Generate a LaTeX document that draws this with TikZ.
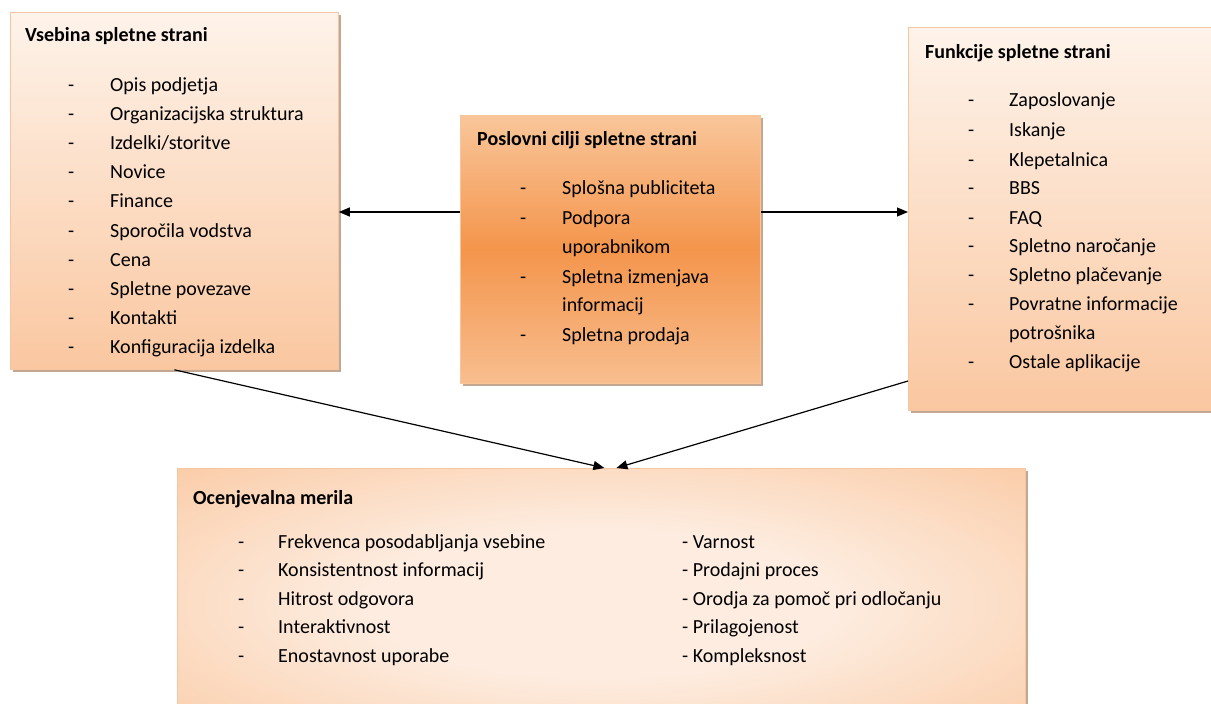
\documentclass[tikz,border=0pt]{standalone}
\usepackage{fontspec}
\setmainfont{Carlito}
\usetikzlibrary{arrows.meta,shadows}

\definecolor{paleA}{HTML}{FEF3EA}
\definecolor{peachB}{HTML}{FAC7A0}
\definecolor{orA}{HTML}{F9C69A}
\definecolor{orM}{HTML}{F4954C}
\definecolor{orB}{HTML}{F8BE8F}
\definecolor{bdr}{HTML}{F4C6A2}
\definecolor{shd}{HTML}{B39278}
\definecolor{radIn}{HTML}{FDECDF}
\definecolor{radMid}{HTML}{FBD2B2}
\definecolor{radOut}{HTML}{F8B783}
\pgfdeclareradialshading{softrad}{\pgfpoint{0bp}{0bp}}{%
  color(0bp)=(radIn); color(14bp)=(radIn); color(32bp)=(radMid);
  color(50bp)=(radOut); color(80bp)=(radOut)}

\begin{document}
\begin{tikzpicture}[x=1pt,y=-1pt,
  box/.style={draw=bdr, line width=0.8pt, inner sep=0pt, anchor=north west,
    drop shadow={shadow xshift=3pt, shadow yshift=-3pt, fill=shd, opacity=0.8}},
  txt/.style={inner sep=0pt, anchor=base west, font=\fontsize{20}{24}\selectfont},
  ttl/.style={txt, font=\fontsize{20}{24}\selectfont\bfseries},
  arr/.style={line width=1.2pt, -{Triangle[length=11pt,width=9pt]}}
]
\useasboundingbox (0,0) rectangle (1211,704);
\fill[white] (0,0) rectangle (1211,704);
\begin{scope}
\clip (0,0) rectangle (1211,704);

% boxes
\node[box, minimum width=328pt, minimum height=357pt,
      top color=paleA, bottom color=peachB] (lbox) at (10,12) {};
\node[box, minimum width=320pt, minimum height=383pt,
      top color=paleA, bottom color=peachB] (rbox) at (908,27) {};
\node[box, draw=orA, minimum width=300pt, minimum height=268pt,
      top color=orA, bottom color=orB, middle color=orM] (cbox) at (460,115) {};
\node[box, draw=bdr, minimum width=848pt, minimum height=270pt,
      shading=softrad] (bbox) at (177,468) {};

% left box text
\node[ttl] (lt) at (25,41) {Vsebina spletne strani};
\foreach \t [count=\i] in {Opis podjetja, Organizacijska struktura, Izdelki/storitve,
   Novice, Finance, Sporočila vodstva, Cena, Spletne povezave, Kontakti,
   Konfiguracija izdelka}{
  \node[txt] (ld\i) at (68,{91+29.2*(\i-1)}) {-};
  \node[txt] (li\i) at (110,{91+29.2*(\i-1)}) {\t};
}

% center box text
\node[ttl] (ct) at (477,145) {Poslovni cilji spletne strani};
\node[txt] (cd1) at (520,194) {-};
\node[txt] (ci1) at (562,194) {Splošna publiciteta};
\node[txt] (cd2) at (520,224) {-};
\node[txt] (ci2) at (562,224) {Podpora};
\node[txt] (ci3) at (562,253) {uporabnikom};
\node[txt] (cd4) at (520,283) {-};
\node[txt] (ci4) at (562,283) {Spletna izmenjava};
\node[txt] (ci5) at (562,311) {informacij};
\node[txt] (cd6) at (520,341) {-};
\node[txt] (ci6) at (562,341) {Spletna prodaja};

% right box text
\node[ttl] (rt) at (925,58) {Funkcije spletne strani};
\node[txt] (rd1) at (968,106) {-};
\node[txt] (ri1) at (1009,106) {Zaposlovanje};
\node[txt] (rd2) at (968,136) {-};
\node[txt] (ri2) at (1009,136) {Iskanje};
\node[txt] (rd3) at (968,166) {-};
\node[txt] (ri3) at (1009,166) {Klepetalnica};
\node[txt] (rd4) at (968,194) {-};
\node[txt] (ri4) at (1009,194) {BBS};
\node[txt] (rd5) at (968,224) {-};
\node[txt] (ri5) at (1009,224) {FAQ};
\node[txt] (rd6) at (968,252) {-};
\node[txt] (ri6) at (1009,252) {Spletno naročanje};
\node[txt] (rd7) at (968,281) {-};
\node[txt] (ri7) at (1009,281) {Spletno plačevanje};
\node[txt] (rd8) at (968,310) {-};
\node[txt] (ri8) at (1009,310) {Povratne informacije};
\node[txt] (ri9) at (1009,339) {potrošnika};
\node[txt] (rd10) at (968,368) {-};
\node[txt] (ri10) at (1009,368) {Ostale aplikacije};

% bottom box text
\node[ttl] (bt) at (193,504) {Ocenjevalna merila};
\foreach \t [count=\i] in {Frekvenca posodabljanja vsebine, Konsistentnost informacij,
   Hitrost odgovora, Interaktivnost, Enostavnost uporabe}{
  \node[txt] (bd\i) at (238,{548+28.6*(\i-1)}) {-};
  \node[txt] (bi\i) at (278,{548+28.6*(\i-1)}) {\t};
}
\foreach \t [count=\i] in {Varnost, Prodajni proces, Orodja za pomoč pri odločanju,
   Prilagojenost, Kompleksnost}{
  \node[txt] (bj\i) at (682,{548+28.6*(\i-1)}) {- \t};
}

% connectors
\coordinate (ca) at (0,212);
\coordinate (rs) at (0,381);
\draw[arr] (cbox.west |- ca) -- (lbox.east |- ca);
\draw[arr] (cbox.east |- ca) -- (rbox.west |- ca);
\draw[arr] (lbox.south) -- ([xshift=3pt]bbox.north);
\draw[arr] (rbox.south west |- rs) -- ([xshift=15pt]bbox.north);
\end{scope}
\end{tikzpicture}
\end{document}
